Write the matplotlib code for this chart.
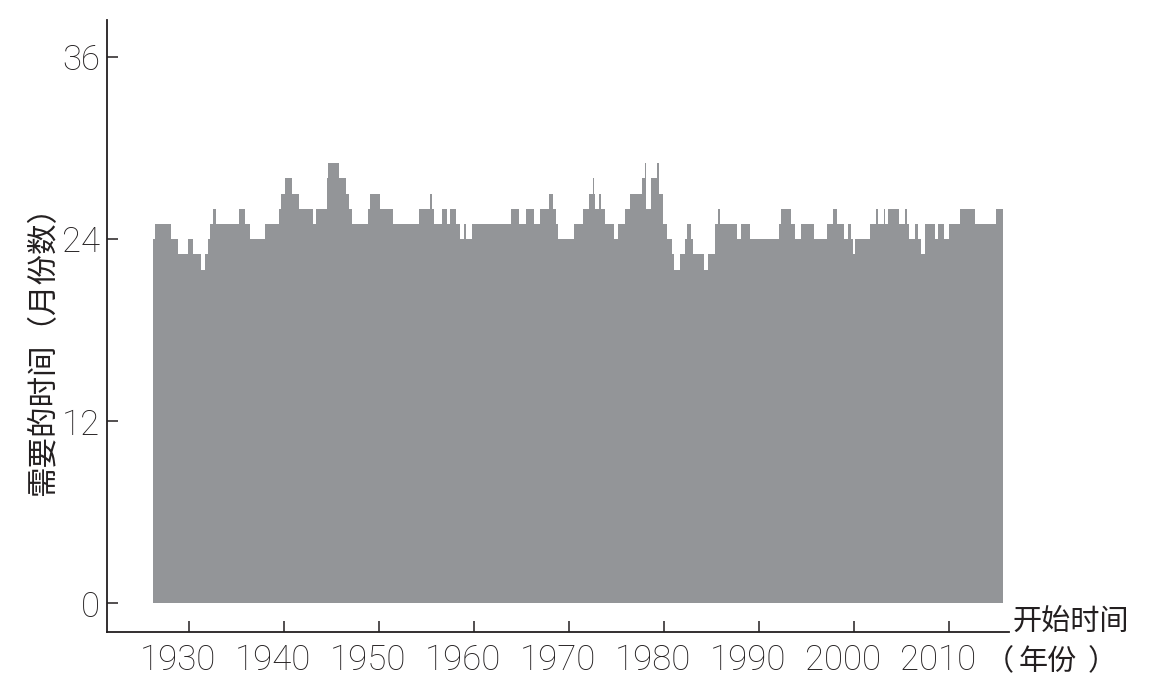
import matplotlib
matplotlib.use("Agg")
import matplotlib.pyplot as plt
import matplotlib.transforms as mtransforms

plt.rcParams['font.family'] = ['Roboto', 'Noto Sans CJK SC', 'DejaVu Sans']

# start year of each step and months needed from that start
step_years = [1926.21, 1926.45, 1928.14, 1928.84, 1929.89, 1930.42, 1931.29, 1931.72,
              1932.00, 1932.18, 1932.53, 1932.84, 1935.26, 1935.89, 1936.39, 1937.97,
              1939.44, 1939.72, 1940.14, 1940.87, 1941.58, 1943.05, 1943.40, 1944.49,
              1944.66, 1945.82, 1946.53, 1946.87, 1947.13, 1948.81, 1949.05, 1950.11,
              1951.51, 1954.24, 1955.37, 1955.58, 1955.79, 1956.63, 1957.13, 1957.47,
              1958.11, 1958.53, 1958.98, 1959.13, 1959.76, 1963.93, 1964.77, 1965.47,
              1966.35, 1966.92, 1967.93, 1968.28, 1968.63, 1968.84, 1970.49, 1971.44,
              1972.14, 1972.49, 1972.63, 1972.77, 1973.19, 1973.40, 1973.76, 1974.71,
              1975.16, 1975.93, 1976.45, 1977.68, 1977.97, 1978.11, 1978.66, 1979.26,
              1979.51, 1979.86, 1980.32, 1980.79, 1981.05, 1981.65, 1982.18, 1982.45,
              1982.81, 1983.08, 1984.21, 1984.66, 1985.34, 1985.68, 1985.86, 1987.65,
              1988.14, 1989.05, 1992.11, 1992.35, 1993.34, 1993.84, 1994.47, 1995.79,
              1997.13, 1997.79, 1998.26, 1998.98, 1999.40, 1999.68, 1999.86, 2000.14,
              2001.72, 2002.32, 2002.56, 2003.13, 2003.29, 2003.61, 2004.77, 2005.37,
              2005.58, 2005.76, 2006.42, 2006.77, 2007.05, 2007.47, 2008.53, 2008.87,
              2009.51, 2010.03, 2011.16, 2012.77, 2014.95]
step_months = [24, 25, 24, 23, 24, 23, 22, 23,
               24, 25, 26, 25, 26, 25, 24, 25,
               26, 27, 28, 27, 26, 25, 26, 28,
               29, 28, 27, 26, 25, 26, 27, 26,
               25, 26, 27, 26, 25, 26, 25, 26,
               25, 24, 25, 24, 25, 26, 25, 26,
               25, 26, 27, 26, 25, 24, 25, 26,
               27, 28, 27, 26, 27, 26, 25, 24,
               25, 26, 27, 28, 29, 26, 28, 29,
               27, 25, 24, 23, 22, 23, 24, 25,
               24, 23, 22, 23, 25, 26, 25, 24,
               25, 24, 25, 26, 25, 24, 25, 24,
               25, 26, 25, 24, 25, 24, 23, 24,
               25, 26, 25, 26, 25, 26, 25, 26,
               25, 24, 25, 24, 23, 25, 24, 25,
               24, 25, 26, 25, 26]
end_year = 2015.68

x_ticks = [1930, 1940, 1950, 1960, 1970, 1980, 1990, 2000, 2010]
y_ticks = [0, 12, 24, 36]

W, H = 1158, 698
fig = plt.figure(figsize=(W / 100, H / 100), dpi=100)
ax = fig.add_axes([107 / W, 1 - 632 / H, (1008.5 - 107) / W, (632 - 20) / H])

xs = step_years + [end_year]
ys = step_months + [step_months[-1]]
ax.fill_between(xs, 0, ys, step='post', color='#939598', linewidth=0)

ax.set_xlim(1921.37, 2016.26)
ax.set_ylim(-1.88, 38.44)

for s in ['top', 'right']:
    ax.spines[s].set_visible(False)
for s in ['left', 'bottom']:
    ax.spines[s].set_linewidth(1.3)
    ax.spines[s].set_color('#231f20')

ax.set_xticks(x_ticks)
ax.set_yticks(y_ticks)
ax.tick_params(direction='in', length=8, width=1.1, color='#231f20',
               labelsize=25, labelcolor='#231f20')
ax.tick_params(axis='x', pad=8)
ax.tick_params(axis='y', pad=5)

# year labels sit a little left of their ticks in the original
shift = mtransforms.ScaledTranslation(-11 / 100, 0, fig.dpi_scale_trans)
for lab in ax.get_xticklabels():
    lab.set_transform(lab.get_transform() + shift)
for lab in ax.get_xticklabels() + ax.get_yticklabels():
    lab.set_fontweight('light')

cjk = ['Noto Sans CJK SC', 'DejaVu Sans']
txt = dict(fontsize=21, family=cjk, color='#231f20')
fig.text(44 / W, 1 - 343 / H, '需要的时间（月份数）', rotation=90,
         ha='center', va='center', fontsize=22, family=cjk, color='#231f20')
fig.text(1013 / W, 1 - 622 / H, '开始时间', ha='left', va='center', **txt)
fig.text(999 / W, 1 - 662 / H, '（', ha='center', va='center', **txt)
fig.text(1048 / W, 1 - 662 / H, '年份', ha='center', va='center', **txt)
fig.text(1102 / W, 1 - 662 / H, '）', ha='center', va='center', **txt)

fig.savefig('out.png', dpi=100)
